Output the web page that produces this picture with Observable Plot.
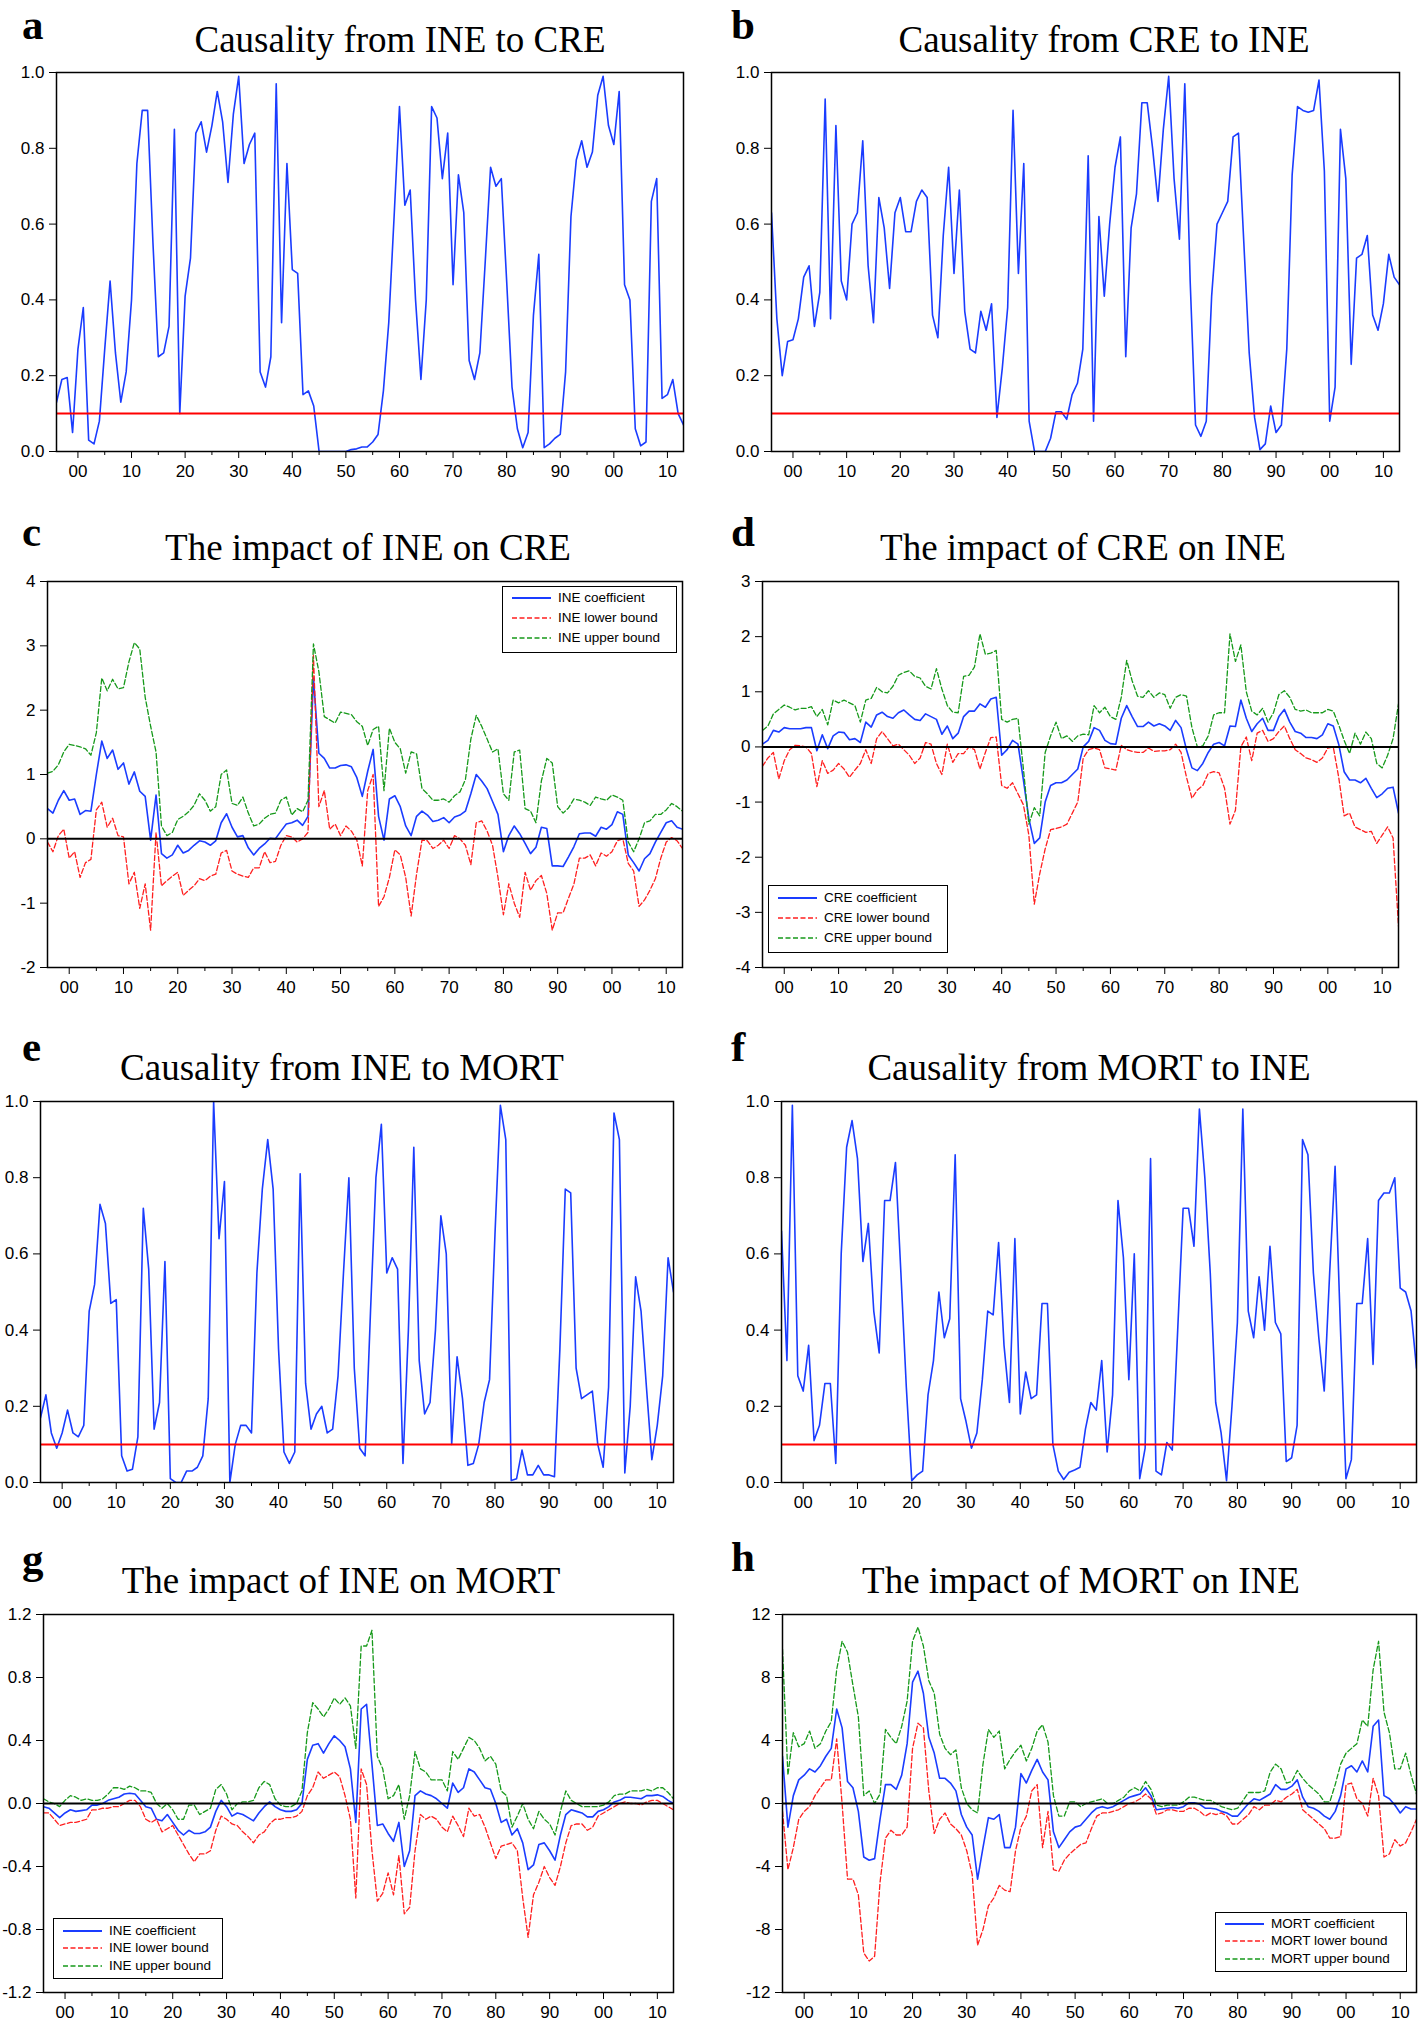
<!DOCTYPE html>
<html><head><meta charset="utf-8">
<script src="https://cdn.jsdelivr.net/npm/d3@7"></script>
<script src="https://cdn.jsdelivr.net/npm/@observablehq/plot@0.6"></script>
<style>
html,body{margin:0;padding:0;background:#fff;overflow:hidden;}
#fig{position:relative;width:1418px;height:2020px;background:#fff;}
.ttl{position:absolute;font-family:"Liberation Serif","Times New Roman",serif;font-size:37px;line-height:37px;white-space:nowrap;transform:translateX(-50%);color:#000;}
.let{position:absolute;font-family:"Liberation Serif","Times New Roman",serif;font-weight:bold;font-size:43px;line-height:normal;color:#000;}
.pnl{position:absolute;}
.leg{position:absolute;border:1.5px solid #000;background:#fff;box-sizing:border-box;font-family:"Liberation Sans",Arial,sans-serif;font-size:13.5px;color:#000;}
.leg .row{position:absolute;height:20px;line-height:20px;white-space:nowrap;}
.leg svg{position:absolute;}
</style></head>
<body><div id="fig"></div>
<script>
// ---------- data (annual, 1896-2013) ----------
const startYear = 1896, endYear = 2013;
const decadeTicks = [1900,1910,1920,1930,1940,1950,1960,1970,1980,1990,2000,2010];
const minorTicks = [1905,1915,1925,1935,1945,1955,1965,1975,1985,1995,2005];
const pTicks = [0,0.2,0.4,0.6,0.8,1.0];

// a: Causality from INE to CRE (p-value)
const causIneToCre = [
0.13,0.19,0.195,0.05,0.27,0.38,0.03,0.02,0.08,0.27,
0.45,0.26,0.13,0.21,0.40,0.76,0.90,0.90,0.55,0.25,
0.26,0.33,0.85,0.10,0.41,0.51,0.84,0.87,0.79,0.86,
0.95,0.87,0.71,0.89,0.99,0.76,0.81,0.84,0.21,0.17,
0.25,0.97,0.34,0.76,0.48,0.47,0.15,0.16,0.12,0.00,
0.00,0.00,0.00,0.00,0.00,0.005,0.007,0.012,0.012,0.025,
0.045,0.16,0.34,0.62,0.91,0.65,0.69,0.40,0.19,0.40,
0.91,0.88,0.72,0.84,0.44,0.73,0.63,0.24,0.19,0.26,
0.50,0.75,0.70,0.72,0.45,0.17,0.06,0.01,0.05,0.36,
0.52,0.01,0.02,0.035,0.045,0.21,0.62,0.77,0.82,0.75,
0.79,0.94,0.99,0.86,0.81,0.95,0.44,0.40,0.06,0.015,
0.025,0.66,0.72,0.14,0.15,0.19,0.10,0.07];

// b: Causality from CRE to INE
const causCreToIne = [
0.63,0.35,0.20,0.29,0.295,0.35,0.46,0.49,0.33,0.42,
0.93,0.35,0.86,0.45,0.40,0.60,0.63,0.82,0.49,0.34,
0.67,0.59,0.43,0.63,0.67,0.58,0.58,0.66,0.69,0.67,
0.36,0.30,0.57,0.75,0.47,0.69,0.37,0.27,0.26,0.37,
0.32,0.39,0.09,0.22,0.38,0.90,0.47,0.76,0.08,0.00,
0.00,0.00,0.035,0.105,0.105,0.085,0.15,0.18,0.27,0.78,
0.08,0.62,0.41,0.60,0.75,0.83,0.25,0.59,0.68,0.92,
0.92,0.80,0.66,0.85,0.99,0.72,0.56,0.97,0.45,0.07,
0.04,0.08,0.41,0.60,0.63,0.66,0.83,0.84,0.55,0.26,
0.09,0.005,0.02,0.12,0.05,0.07,0.27,0.73,0.91,0.90,
0.895,0.90,0.98,0.74,0.08,0.17,0.85,0.72,0.23,0.51,
0.52,0.57,0.36,0.32,0.39,0.52,0.46,0.44];

// c: The impact of INE on CRE
const ineOnCreCoef = [
0.47,0.40,0.60,0.75,0.60,0.62,0.38,0.44,0.43,1.00,
1.52,1.25,1.38,1.08,1.18,0.85,1.04,0.74,0.66,-0.02,
0.68,-0.23,-0.30,-0.25,-0.10,-0.22,-0.18,-0.10,-0.03,-0.05,
-0.10,-0.03,0.25,0.39,0.18,0.03,0.05,-0.14,-0.25,-0.15,
-0.08,0.01,0.00,0.12,0.23,0.25,0.29,0.21,0.35,2.50,
1.33,1.25,1.10,1.10,1.14,1.15,1.12,0.95,0.66,1.05,
1.39,0.35,-0.02,0.62,0.67,0.50,0.20,0.05,0.35,0.43,
0.37,0.27,0.29,0.33,0.25,0.34,0.37,0.43,0.70,1.00,
0.90,0.78,0.58,0.38,-0.20,0.05,0.20,0.08,-0.07,-0.23,
-0.13,0.18,0.16,-0.42,-0.42,-0.43,-0.28,-0.12,0.08,0.09,
0.09,0.04,0.18,0.15,0.22,0.42,0.38,-0.25,-0.37,-0.50,
-0.31,-0.23,-0.05,0.10,0.25,0.28,0.18,0.15];
const ineOnCreLower = [
-0.05,-0.20,0.05,0.15,-0.30,-0.20,-0.60,-0.37,-0.32,0.45,
0.57,0.18,0.32,0.05,0.03,-0.70,-0.52,-1.08,-0.70,-1.42,
0.10,-0.73,-0.65,-0.58,-0.52,-0.88,-0.80,-0.73,-0.62,-0.65,
-0.58,-0.55,-0.22,-0.18,-0.50,-0.55,-0.58,-0.60,-0.45,-0.45,
-0.20,-0.37,-0.35,-0.10,0.05,0.03,-0.05,0.00,0.10,2.85,
0.50,0.75,0.15,0.23,0.05,0.20,0.12,-0.02,-0.42,0.75,
1.00,-1.05,-0.90,-0.60,-0.17,-0.25,-0.60,-1.20,-0.55,-0.02,
-0.03,-0.15,-0.10,-0.02,-0.15,0.05,0.00,-0.10,-0.40,0.25,
0.28,0.12,-0.10,-0.60,-1.18,-0.70,-1.00,-1.22,-0.52,-0.80,
-0.65,-0.57,-0.85,-1.42,-1.15,-1.15,-0.92,-0.70,-0.30,-0.30,
-0.25,-0.42,-0.22,-0.27,-0.20,-0.03,0.00,-0.38,-0.50,-1.05,
-0.95,-0.80,-0.62,-0.30,-0.05,0.02,-0.03,-0.15];
const ineOnCreUpper = [
1.02,1.05,1.15,1.35,1.47,1.45,1.43,1.40,1.30,1.65,
2.50,2.30,2.48,2.33,2.35,2.75,3.05,2.95,2.20,1.75,
1.35,0.20,0.05,0.10,0.30,0.35,0.42,0.52,0.70,0.60,
0.43,0.50,1.00,1.07,0.55,0.52,0.65,0.40,0.20,0.23,
0.32,0.38,0.40,0.60,0.65,0.37,0.47,0.42,0.60,3.03,
2.60,1.90,1.85,1.80,1.97,1.95,1.93,1.82,1.75,1.45,
1.70,1.75,0.75,1.72,1.50,1.40,1.02,1.35,1.32,0.78,
0.70,0.60,0.60,0.62,0.57,0.67,0.73,0.92,1.55,1.92,
1.75,1.55,1.35,1.40,0.70,0.60,1.35,1.38,0.47,0.43,
0.25,0.90,1.25,1.18,0.50,0.40,0.48,0.62,0.60,0.57,
0.52,0.65,0.62,0.60,0.68,0.65,0.60,-0.05,-0.20,0.00,
0.25,0.28,0.38,0.38,0.45,0.55,0.50,0.43];

// d: The impact of CRE on INE
const creOnIneCoef = [
0.05,0.12,0.30,0.27,0.35,0.33,0.33,0.33,0.35,0.35,
-0.07,0.22,-0.03,0.20,0.27,0.26,0.13,0.15,0.08,0.45,
0.36,0.58,0.63,0.55,0.52,0.62,0.67,0.58,0.50,0.48,
0.60,0.55,0.50,0.23,0.38,0.15,0.25,0.55,0.65,0.65,
0.78,0.72,0.87,0.90,-0.15,-0.05,0.12,0.05,-0.60,-1.30,
-1.75,-1.65,-1.00,-0.70,-0.65,-0.65,-0.60,-0.50,-0.40,0.00,
0.10,0.35,0.30,0.12,0.06,0.05,0.52,0.75,0.55,0.37,
0.37,0.45,0.38,0.42,0.38,0.30,0.48,0.35,-0.05,-0.38,
-0.43,-0.30,-0.10,0.05,0.08,0.02,0.38,0.37,0.85,0.52,
0.28,0.42,0.52,0.30,0.30,0.55,0.68,0.45,0.28,0.25,
0.17,0.17,0.15,0.22,0.42,0.38,0.05,-0.45,-0.60,-0.60,
-0.65,-0.57,-0.75,-0.92,-0.85,-0.75,-0.73,-1.20];
const creOnIneLower = [
-0.35,-0.20,-0.10,-0.58,-0.25,-0.05,0.03,0.02,0.00,-0.12,
-0.72,-0.25,-0.48,-0.42,-0.30,-0.40,-0.55,-0.42,-0.30,-0.05,
-0.30,0.15,0.28,0.15,0.02,0.05,-0.05,-0.15,-0.30,-0.20,
0.08,0.05,-0.30,-0.50,0.05,-0.28,-0.12,-0.12,0.00,-0.05,
-0.40,-0.10,0.17,0.18,-0.70,-0.75,-0.65,-0.85,-1.05,-1.60,
-2.85,-2.30,-1.85,-1.50,-1.48,-1.45,-1.40,-1.20,-1.00,-0.20,
-0.05,-0.02,-0.05,-0.38,-0.40,-0.42,0.03,-0.05,-0.08,-0.10,
-0.10,-0.02,-0.08,-0.07,-0.07,-0.05,0.05,-0.10,-0.55,-0.93,
-0.78,-0.70,-0.48,-0.45,-0.47,-0.75,-1.40,-1.15,0.00,0.18,
-0.25,0.25,0.30,0.10,0.15,0.28,0.38,0.15,-0.05,-0.12,
-0.20,-0.23,-0.28,-0.20,-0.02,0.00,-0.55,-1.25,-1.20,-1.45,
-1.50,-1.55,-1.53,-1.75,-1.60,-1.45,-1.65,-3.25];
const creOnIneUpper = [
0.30,0.38,0.60,0.68,0.76,0.72,0.67,0.70,0.70,0.73,
0.55,0.68,0.40,0.85,0.80,0.85,0.80,0.75,0.45,0.85,
0.88,1.08,1.00,0.98,1.10,1.30,1.35,1.38,1.28,1.25,
1.10,1.05,1.42,1.05,0.75,0.63,0.62,1.28,1.30,1.45,
2.05,1.68,1.70,1.75,0.50,0.45,0.50,0.52,-0.40,-1.40,
-1.10,-1.25,-0.10,0.20,0.45,0.15,0.20,0.10,0.20,0.23,
0.22,0.75,0.62,0.72,0.55,0.50,0.90,1.57,1.20,0.92,
0.90,1.02,0.90,0.98,0.95,0.70,0.90,0.95,0.92,0.35,
0.00,0.02,0.20,0.58,0.62,0.62,2.05,1.55,1.85,1.00,
0.65,0.58,0.70,0.45,0.62,0.95,1.02,0.90,0.68,0.65,
0.67,0.62,0.62,0.62,0.68,0.65,0.40,0.12,-0.12,0.25,
0.05,0.27,0.15,-0.30,-0.38,-0.15,0.15,0.78];

// e: Causality from INE to MORT
const causIneToMort = [
0.17,0.23,0.13,0.09,0.13,0.19,0.13,0.12,0.15,0.45,
0.52,0.73,0.68,0.47,0.48,0.07,0.03,0.035,0.12,0.72,
0.56,0.14,0.21,0.58,0.01,0.00,0.00,0.03,0.03,0.04,
0.07,0.22,1.00,0.64,0.79,0.00,0.10,0.15,0.15,0.13,
0.55,0.77,0.90,0.77,0.35,0.08,0.05,0.08,0.81,0.26,
0.14,0.18,0.20,0.13,0.14,0.28,0.55,0.80,0.30,0.09,
0.07,0.45,0.80,0.94,0.55,0.59,0.56,0.05,0.40,0.88,
0.32,0.18,0.21,0.40,0.70,0.60,0.10,0.33,0.22,0.045,
0.05,0.10,0.21,0.27,0.65,0.99,0.90,0.005,0.01,0.085,
0.02,0.02,0.045,0.02,0.02,0.015,0.35,0.77,0.76,0.30,
0.22,0.23,0.24,0.10,0.04,0.25,0.97,0.90,0.025,0.20,
0.54,0.45,0.25,0.06,0.15,0.28,0.59,0.50];

// f: Causality from MORT to INE
const causMortToIne = [
0.66,0.32,0.99,0.28,0.24,0.36,0.11,0.15,0.26,0.26,
0.05,0.60,0.88,0.95,0.85,0.58,0.68,0.45,0.34,0.74,
0.74,0.84,0.55,0.25,0.005,0.02,0.03,0.23,0.32,0.50,
0.38,0.43,0.86,0.22,0.16,0.09,0.13,0.27,0.45,0.44,
0.63,0.36,0.21,0.64,0.18,0.29,0.22,0.23,0.47,0.47,
0.10,0.03,0.008,0.027,0.033,0.04,0.14,0.21,0.19,0.32,
0.08,0.23,0.74,0.59,0.27,0.60,0.01,0.09,0.85,0.03,
0.02,0.105,0.085,0.40,0.72,0.72,0.62,0.98,0.80,0.55,
0.21,0.13,0.005,0.20,0.42,0.98,0.45,0.38,0.54,0.40,
0.62,0.42,0.39,0.055,0.065,0.15,0.90,0.86,0.55,0.38,
0.24,0.55,0.83,0.40,0.01,0.06,0.47,0.47,0.64,0.31,
0.74,0.76,0.76,0.80,0.51,0.50,0.45,0.30];

// g: The impact of INE on MORT
const ineOnMortCoef = [
-0.02,-0.03,-0.06,-0.09,-0.06,-0.04,-0.05,-0.045,-0.04,-0.01,
-0.01,0.00,0.02,0.03,0.04,0.06,0.065,0.06,0.02,-0.02,
-0.03,-0.10,-0.11,-0.07,-0.12,-0.17,-0.20,-0.17,-0.19,-0.19,
-0.18,-0.15,-0.05,0.02,-0.02,-0.08,-0.06,-0.07,-0.09,-0.11,
-0.06,-0.02,0.01,-0.02,-0.04,-0.05,-0.05,-0.04,0.00,0.28,
0.37,0.38,0.32,0.38,0.43,0.40,0.36,0.22,-0.12,0.60,
0.63,0.25,-0.14,-0.13,-0.19,-0.24,-0.12,-0.40,-0.30,0.05,
0.08,0.06,0.05,0.03,0.00,-0.03,0.13,0.07,0.10,0.22,
0.20,0.15,0.10,0.09,0.00,-0.12,-0.10,-0.20,-0.16,-0.25,
-0.42,-0.39,-0.26,-0.25,-0.30,-0.36,-0.20,-0.07,-0.04,-0.05,
-0.06,-0.085,-0.085,-0.05,-0.04,-0.02,0.01,0.02,0.04,0.04,
0.035,0.03,0.05,0.05,0.055,0.045,0.02,0.00];
const ineOnMortLower = [
-0.06,-0.06,-0.10,-0.14,-0.13,-0.12,-0.12,-0.11,-0.10,-0.04,
-0.04,-0.03,-0.03,-0.02,-0.02,0.00,0.02,0.02,-0.02,-0.10,
-0.12,-0.10,-0.18,-0.16,-0.14,-0.20,-0.26,-0.32,-0.37,-0.32,
-0.32,-0.30,-0.17,-0.08,-0.10,-0.13,-0.14,-0.18,-0.21,-0.25,
-0.20,-0.18,-0.13,-0.10,-0.10,-0.09,-0.09,-0.08,-0.05,0.05,
0.10,0.20,0.16,0.18,0.20,0.17,0.05,-0.10,-0.60,0.22,
0.12,-0.30,-0.62,-0.57,-0.44,-0.58,-0.33,-0.70,-0.66,-0.30,
-0.07,-0.10,-0.08,-0.10,-0.15,-0.18,-0.08,-0.14,-0.21,-0.03,
-0.08,-0.07,-0.15,-0.25,-0.35,-0.27,-0.26,-0.25,-0.30,-0.60,
-0.85,-0.58,-0.50,-0.40,-0.47,-0.52,-0.40,-0.25,-0.14,-0.13,
-0.13,-0.17,-0.15,-0.08,-0.06,-0.04,-0.02,0.00,0.01,0.00,
0.00,-0.01,0.01,0.02,0.02,0.00,-0.02,-0.04];
const ineOnMortUpper = [
0.03,0.01,0.00,-0.02,0.02,0.05,0.04,0.02,0.03,0.02,
0.02,0.03,0.06,0.10,0.10,0.09,0.11,0.10,0.08,0.08,
0.07,0.00,-0.03,0.00,-0.04,-0.10,-0.10,-0.01,-0.01,-0.07,
-0.05,-0.03,0.09,0.12,0.06,-0.04,0.00,0.01,0.01,0.02,
0.10,0.14,0.12,0.03,-0.01,-0.02,-0.02,0.00,0.08,0.45,
0.64,0.60,0.55,0.60,0.67,0.63,0.67,0.62,0.35,1.00,
1.00,1.10,0.30,0.22,0.03,0.05,0.12,-0.10,0.05,0.33,
0.22,0.20,0.15,0.15,0.15,0.08,0.33,0.28,0.35,0.42,
0.40,0.35,0.27,0.30,0.25,0.08,0.05,-0.15,-0.08,0.00,
-0.10,-0.16,-0.05,-0.10,-0.13,-0.20,-0.05,0.08,0.02,0.00,
-0.02,-0.02,-0.02,-0.02,-0.01,0.01,0.05,0.06,0.06,0.08,
0.08,0.08,0.09,0.08,0.10,0.10,0.07,0.03];

// h: The impact of MORT on INE
const mortOnIneCoef = [
3.0,-1.5,0.5,1.5,1.8,2.2,2.0,2.4,3.0,3.5,
6.0,4.8,1.4,1.0,-0.5,-3.4,-3.6,-3.5,-1.0,1.2,
1.2,0.9,1.8,3.8,7.7,8.4,7.0,4.2,3.2,1.6,
1.6,1.3,0.8,-0.7,-1.5,-2.0,-4.8,-2.8,-0.9,-1.0,
-0.7,-2.8,-2.8,-1.5,1.9,1.3,2.1,2.8,2.0,1.5,
-1.8,-2.8,-2.3,-1.8,-1.5,-1.4,-1.0,-0.6,-0.3,-0.2,
-0.3,-0.2,0.0,0.2,0.4,0.5,0.6,1.0,0.5,-0.4,
-0.35,-0.3,-0.25,-0.3,-0.2,0.05,0.05,-0.05,-0.3,-0.3,
-0.35,-0.5,-0.6,-0.8,-0.8,-0.4,0.0,0.3,0.2,0.4,
0.6,1.2,0.9,0.9,1.1,1.5,0.4,-0.2,-0.3,-0.5,
-0.8,-1.0,-0.5,0.5,2.2,2.4,2.0,2.7,2.0,4.9,
5.3,0.5,0.3,-0.1,-0.6,-0.2,-0.35,-0.35];
const mortOnIneLower = [
-0.5,-4.2,-2.8,-1.0,-0.5,-0.2,0.5,1.0,1.5,1.5,
4.1,0.0,-4.8,-4.8,-5.8,-9.5,-10.0,-9.7,-5.0,-2.2,
-1.7,-2.0,-2.0,-1.5,3.5,5.1,4.8,0.8,-1.9,-1.0,
-0.6,-1.3,-1.6,-2.0,-3.0,-4.5,-9.0,-8.0,-6.5,-6.0,
-5.2,-5.5,-5.6,-3.0,-1.5,-0.8,0.8,1.2,-2.8,-0.5,
-4.2,-4.3,-3.6,-3.2,-2.9,-2.6,-2.5,-1.6,-0.8,-0.6,
-0.6,-0.5,-0.4,-0.2,0.0,0.1,0.3,0.6,0.3,-0.7,
-0.6,-0.4,-0.4,-0.5,-0.5,-0.3,-0.3,-0.5,-0.8,-0.6,
-0.7,-0.6,-0.8,-1.3,-1.3,-1.0,-0.7,-0.2,-0.4,-0.1,
-0.1,0.2,0.1,0.4,0.6,0.9,-0.4,-0.7,-1.0,-1.3,
-1.6,-2.2,-2.2,-2.1,1.2,1.3,0.3,0.0,-0.8,1.6,
0.5,-3.4,-3.2,-2.3,-2.7,-2.5,-1.8,-1.0];
const mortOnIneUpper = [
9.8,1.8,4.5,3.6,3.8,4.6,3.5,3.8,4.6,5.2,
8.5,10.3,9.6,7.5,5.5,0.5,0.8,0.0,0.6,4.7,
4.2,3.8,4.9,6.5,10.3,11.2,10.0,7.8,7.0,4.4,
3.5,3.1,3.4,1.0,0.0,-0.4,-0.6,2.5,4.7,4.2,
4.6,2.2,2.8,3.3,3.7,2.7,3.5,4.6,5.0,3.9,
0.5,-0.8,-0.8,0.1,0.1,-0.2,0.0,0.1,0.2,0.3,
0.0,0.0,0.2,0.4,0.8,1.0,0.8,1.4,0.9,-0.1,
-0.2,-0.1,-0.1,-0.1,0.1,0.4,0.4,0.3,0.2,0.2,
0.0,-0.2,-0.3,-0.4,-0.3,0.2,0.7,0.7,0.7,0.8,
2.0,2.5,2.2,1.3,1.4,2.1,1.6,1.2,0.9,0.6,
0.1,0.1,1.2,2.5,3.2,3.5,3.8,5.3,4.9,8.5,
10.3,5.8,4.5,2.2,2.2,3.2,1.8,0.6];

// ---------- rendering ----------
const years = d3.range(startYear, endYear + 1);
const allSeries = {causIneToCre, causCreToIne, ineOnCreCoef, ineOnCreLower, ineOnCreUpper,
  creOnIneCoef, creOnIneLower, creOnIneUpper, causIneToMort, causMortToIne,
  ineOnMortCoef, ineOnMortLower, ineOnMortUpper, mortOnIneCoef, mortOnIneLower, mortOnIneUpper};
for (const [k, v] of Object.entries(allSeries)) if (v.length !== years.length) throw new Error(k + " has " + v.length);

const BLUE = "#1a3cff", RED = "#ff1f1f", GREEN = "#16991a";
const fmt1 = d => d.toFixed(1);
const fmtInt = d => String(d);
const yy = d => String(d % 100).padStart(2, "0");

const fig = document.getElementById("fig");

function coefSeries(prefix, c, l, u) {
  return [
    {v: c, stroke: BLUE, w: 1.6, dash: null, label: prefix + " coefficient"},
    {v: l, stroke: RED, w: 1.3, dash: "5,2.5", label: prefix + " lower bound"},
    {v: u, stroke: GREEN, w: 1.3, dash: "5,2.5", label: prefix + " upper bound"}
  ];
}

const panels = [
  {letter:"a", title:"Causality from INE to CRE", tx:400, ty:52, lx:22, ly:34, col:0, L:56, T:72, R:683, B:451,
   yDomain:[0,1], yTicks:pTicks, yFmt:fmt1, series:[{v:causIneToCre, stroke:BLUE, w:1.6}], ref:{y:0.1, stroke:"#ff0000"}},
  {letter:"b", title:"Causality from CRE to INE", tx:1104, ty:52, lx:731, ly:34, col:1, L:771, T:72, R:1399, B:451,
   yDomain:[0,1], yTicks:pTicks, yFmt:fmt1, series:[{v:causCreToIne, stroke:BLUE, w:1.6}], ref:{y:0.1, stroke:"#ff0000"}},
  {letter:"c", title:"The impact of INE on CRE", tx:368, ty:560, lx:22, ly:545, col:0, L:47, T:581, R:682, B:967,
   yDomain:[-2,4], yTicks:[-2,-1,0,1,2,3,4], yFmt:fmtInt, series:coefSeries("INE", ineOnCreCoef, ineOnCreLower, ineOnCreUpper),
   ref:{y:0, stroke:"#000"}, legend:{x:502, y:586, w:175, h:67, rows:[12,32,52]}},
  {letter:"d", title:"The impact of CRE on INE", tx:1083, ty:560, lx:731, ly:545, col:1, L:762, T:581, R:1398, B:967,
   yDomain:[-4,3], yTicks:[-4,-3,-2,-1,0,1,2,3], yFmt:fmtInt, series:coefSeries("CRE", creOnIneCoef, creOnIneLower, creOnIneUpper),
   ref:{y:0, stroke:"#000"}, legend:{x:768, y:885, w:180, h:68, rows:[13,33,53]}},
  {letter:"e", title:"Causality from INE to MORT", tx:342, ty:1080, lx:22, ly:1060, col:0, L:40, T:1101, R:673, B:1482,
   yDomain:[0,1], yTicks:pTicks, yFmt:fmt1, series:[{v:causIneToMort, stroke:BLUE, w:1.6}], ref:{y:0.1, stroke:"#ff0000"}},
  {letter:"f", title:"Causality from MORT to INE", tx:1089, ty:1080, lx:731, ly:1060, col:1, L:781, T:1101, R:1416, B:1482,
   yDomain:[0,1], yTicks:pTicks, yFmt:fmt1, series:[{v:causMortToIne, stroke:BLUE, w:1.6}], ref:{y:0.1, stroke:"#ff0000"}},
  {letter:"g", title:"The impact of INE on MORT", tx:341, ty:1593, lx:22, ly:1572, col:0, L:43, T:1614, R:673, B:1992,
   yDomain:[-1.2,1.2], yTicks:[-1.2,-0.8,-0.4,0,0.4,0.8,1.2], yFmt:fmt1, series:coefSeries("INE", ineOnMortCoef, ineOnMortLower, ineOnMortUpper),
   ref:{y:0, stroke:"#000"}, legend:{x:53, y:1918, w:170, h:61, rows:[13,30.5,48]}},
  {letter:"h", title:"The impact of MORT on INE", tx:1081, ty:1593, lx:731, ly:1570, col:1, L:782, T:1614, R:1416, B:1992,
   yDomain:[-12,12], yTicks:[-12,-8,-4,0,4,8,12], yFmt:fmtInt, series:coefSeries("MORT", mortOnIneCoef, mortOnIneLower, mortOnIneUpper),
   ref:{y:0, stroke:"#000"}, legend:{x:1215, y:1912, w:192, h:60, rows:[12,29.5,47]}}
];

function addDiv(cls, text, left, top) {
  const d = document.createElement("div");
  d.className = cls; d.textContent = text;
  d.style.left = left + "px"; d.style.top = top + "px";
  fig.appendChild(d);
  return d;
}

for (const p of panels) {
  const ox = p.col ? 709 : 0;
  const mt = 20, mb = 40;
  const marks = [];
  for (const s of p.series) {
    marks.push(Plot.lineY(s.v, {x: years, y: d => d, stroke: s.stroke, strokeWidth: s.w,
      strokeDasharray: s.dash || undefined, strokeLinejoin: "round", clip: true}));
  }
  marks.push(Plot.ruleY([p.ref.y], {stroke: p.ref.stroke, strokeWidth: 2}));
  marks.push(Plot.axisY({ticks: p.yTicks, tickSize: 7, tickPadding: 5, tickFormat: p.yFmt}));
  marks.push(Plot.axisX({ticks: decadeTicks, tickSize: 7, tickPadding: 6, tickFormat: yy}));
  marks.push(Plot.axisX({ticks: minorTicks, tickSize: 4, tickFormat: () => ""}));
  marks.push(Plot.frame({stroke: "#000", strokeWidth: 1.5}));
  const svg = Plot.plot({
    width: 709,
    height: p.B - p.T + mt + mb,
    marginLeft: p.L - ox,
    marginRight: ox + 709 - p.R,
    marginTop: mt,
    marginBottom: mb,
    x: {domain: [startYear, endYear], label: null},
    y: {domain: p.yDomain, label: null},
    style: {background: "transparent", overflow: "visible", maxWidth: "none", color: "#000",
      fontFamily: '"Liberation Sans", Arial, sans-serif', fontSize: "17px"},
    marks
  });
  const wrap = document.createElement("div");
  wrap.className = "pnl";
  wrap.style.left = ox + "px";
  wrap.style.top = (p.T - mt) + "px";
  wrap.appendChild(svg);
  fig.appendChild(wrap);

  addDiv("ttl", p.title, p.tx, p.ty - 31);
  // letter: Liberation Serif ascent ~0.891em with normal line-height
  addDiv("let", p.letter, p.lx, Math.max(0, p.ly - 0.891 * 43));

  if (p.legend) {
    const lg = p.legend;
    const box = document.createElement("div");
    box.className = "leg";
    box.style.left = lg.x + "px"; box.style.top = lg.y + "px";
    box.style.width = lg.w + "px"; box.style.height = lg.h + "px";
    p.series.forEach((s, i) => {
      const cy = lg.rows[i] - 1.5;
      const sw = document.createElementNS("http://www.w3.org/2000/svg", "svg");
      sw.setAttribute("width", 40); sw.setAttribute("height", 6);
      sw.style.left = "8.5px"; sw.style.top = (cy - 3) + "px";
      const ln = document.createElementNS("http://www.w3.org/2000/svg", "line");
      ln.setAttribute("x1", 0); ln.setAttribute("x2", 39); ln.setAttribute("y1", 3); ln.setAttribute("y2", 3);
      ln.setAttribute("stroke", s.stroke); ln.setAttribute("stroke-width", s.dash ? 1.6 : 2);
      if (s.dash) ln.setAttribute("stroke-dasharray", "5,2.5");
      sw.appendChild(ln); box.appendChild(sw);
      const t = document.createElement("div");
      t.className = "row"; t.textContent = s.label;
      t.style.left = "55px"; t.style.top = (cy - 10) + "px";
      box.appendChild(t);
    });
    fig.appendChild(box);
  }
}
</script></body></html>
